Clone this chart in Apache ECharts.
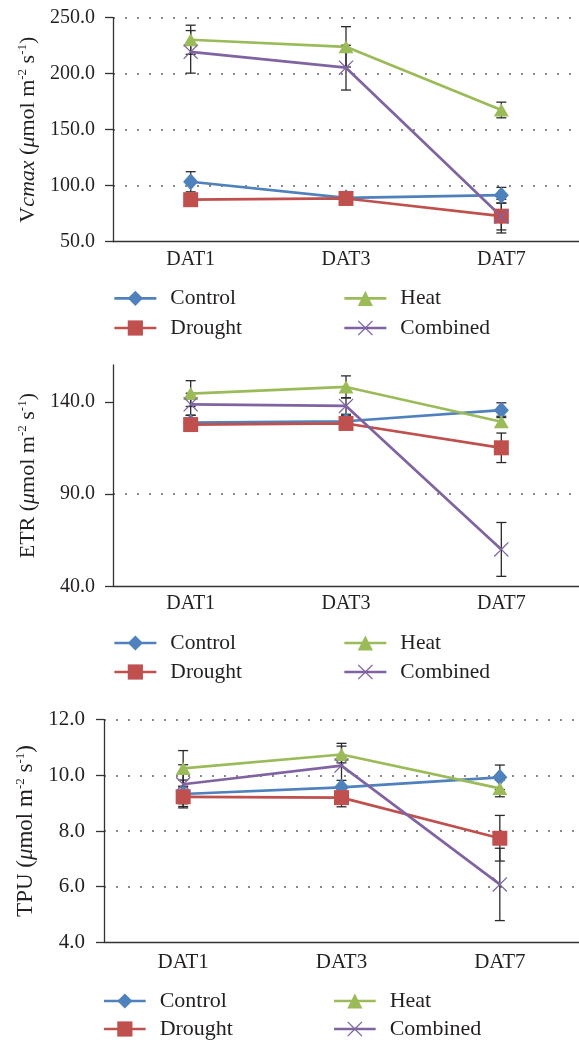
<!DOCTYPE html>
<html>
<head>
<meta charset="utf-8">
<title>Vcmax / ETR / TPU</title>
<script src="https://cdn.jsdelivr.net/npm/echarts@6/dist/echarts.min.js"></script>
<style>
html,body{margin:0;padding:0;background:#fff;}
#chart{width:579px;height:1040px;}
</style>
</head>
<body>
<div id="chart"></div>
<script>
var days = ['DAT1', 'DAT3', 'DAT7'];
var names = ['Control', 'Drought', 'Heat', 'Combined'];

// Vcmax
var vcmaxControl = [103.5, 89.2, 91.5];
var vcmaxDrought = [87.5, 88.6, 72.8];
var vcmaxHeat = [230.3, 224.0, 167.6];
var vcmaxCombined = [219.5, 205.4, 72.5];
var vcmaxControlErr = [9, 4, 7];
var vcmaxDroughtErr = [3, 5, 15];
var vcmaxHeatErr = [13, 18, 7];
var vcmaxCombinedErr = [19, 20, 12];
var vcmaxTicks = [50, 100, 150, 200, 250];
var vcmaxMax = 250;

// ETR
var etrControl = [128.8, 129.5, 135.5];
var etrDrought = [127.7, 128.3, 115.1];
var etrHeat = [144.5, 148.1, 129.2];
var etrCombined = [138.7, 137.8, 60.0];
var etrControlErr = [4, 3, 4];
var etrDroughtErr = [2, 2, 8];
var etrHeatErr = [7, 6, 3];
var etrCombinedErr = [6, 4.5, 14.6];
var etrTicks = [40, 90, 140];
var etrMax = 160;

// TPU
var tpuControl = [9.33, 9.57, 9.93];
var tpuDrought = [9.23, 9.2, 7.74];
var tpuHeat = [10.25, 10.75, 9.53];
var tpuCombined = [9.68, 10.35, 6.08];
var tpuControlErr = [0.5, 0.25, 0.44];
var tpuDroughtErr = [0.35, 0.33, 0.82];
var tpuHeatErr = [0.64, 0.3, 0.3];
var tpuCombinedErr = [0.7, 0.8, 1.3];
var tpuTicks = [4, 6, 8, 10, 12];
var tpuMax = 12;

var colors = ['#4f81bd', '#c0504d', '#9bbb59', '#8064a2'];
var symbols = ['diamond', 'rect', 'triangle',
    'path://M0,0.6 L0.6,0 L5,4.4 L9.4,0 L10,0.6 L5.6,5 L10,9.4 L9.4,10 L5,5.6 L0.6,10 L0,9.4 L4.4,5 Z'];
var symbolSizes = [[15, 17], [15, 15], [15, 13], [15, 15]];
var font = 'Liberation Serif';
var ink = '#231f20';

var chart = echarts.init(document.getElementById('chart'));

var grid = [], xAxis = [], yAxis = [], series = [], legend = [];

function errRender(params, api) {
    var c = api.coord([api.value(0), api.value(1)]);
    var lo = api.coord([api.value(0), api.value(2)]);
    var hi = api.coord([api.value(0), api.value(3)]);
    var st = {stroke: '#2b2b2b', lineWidth: 1.3};
    return {type: 'group', children: [
        {type: 'line', shape: {x1: c[0], y1: hi[1], x2: c[0], y2: lo[1]}, style: st},
        {type: 'line', shape: {x1: c[0] - 5, y1: hi[1], x2: c[0] + 5, y2: hi[1]}, style: st},
        {type: 'line', shape: {x1: c[0] - 5, y1: lo[1], x2: c[0] + 5, y2: lo[1]}, style: st}
    ]};
}

function addPanel(p) {
    var gi = grid.length;
    grid.push({left: p.left, width: p.width, top: p.top, height: p.height});

    xAxis.push({type: 'category', gridIndex: gi, data: days,
        axisLine: {lineStyle: {color: '#333', width: 1.3}}, axisTick: {show: false},
        axisLabel: {margin: p.xMargin, fontFamily: font, fontSize: p.fs, color: ink}});
    yAxis.push({type: 'value', gridIndex: gi, min: p.ticks[0], max: p.max,
        axisLine: {show: true, lineStyle: {color: '#333', width: 1.3}},
        axisTick: {show: true, length: 8, customValues: p.ticks, lineStyle: {color: '#333', width: 1.3}},
        axisLabel: {customValues: p.ticks, margin: p.labelMargin, fontFamily: font, fontSize: p.fs, color: ink,
            formatter: function (v) { return v.toFixed(1); }},
        splitLine: {show: true, showMinLine: false, showMaxLine: p.max === p.ticks[p.ticks.length - 1],
            lineStyle: {color: '#8a8a8a', width: 2, type: [2, 10]}},
        name: p.name, nameLocation: 'middle', nameGap: p.nameGap,
        nameTextStyle: {fontFamily: font, fontSize: p.nfs, color: ink,
            rich: {
                t: {fontFamily: font, fontSize: p.nfs, color: ink},
                i: {fontFamily: font, fontSize: p.nfs, color: ink, fontStyle: 'italic'},
                s: {fontFamily: font, fontSize: 13, color: ink, padding: [0, 0, 11, 0]}
            }}});

    for (var k = 0; k < 4; k++) {
        var vals = p.values[k], errs = p.errs[k];
        var errData = vals.map(function (v, i) { return [i, v, v - errs[i], v + errs[i]]; });
        series.push({type: 'custom', name: names[k] + ' error', xAxisIndex: gi, yAxisIndex: gi, z: 2,
            renderItem: errRender, encode: {x: 0, y: [1, 2, 3]}, data: errData});
    }
    for (var k = 0; k < 4; k++) {
        series.push({type: 'line', name: names[k], xAxisIndex: gi, yAxisIndex: gi, z: 3,
            data: p.values[k], symbol: symbols[k], symbolSize: symbolSizes[k],
            lineStyle: {color: colors[k], width: 2.7},
            itemStyle: {color: colors[k]}});
    }

    var lg = {orient: 'vertical', padding: 0, itemWidth: p.legW, itemHeight: 19, itemGap: p.legGap, top: p.legTop,
        lineStyle: {width: 2.7},
        textStyle: {fontFamily: font, fontSize: p.lfs, color: ink, lineHeight: 20, padding: [0, 0, 0, 9]}};
    legend.push(Object.assign({}, lg, {left: p.legLeft[0], data: ['Control', 'Drought']}));
    legend.push(Object.assign({}, lg, {left: p.legLeft[1], data: ['Heat', 'Combined']}));
}

addPanel({left: 113, top: 17.7, height: 224, width: 466.5, ticks: vcmaxTicks, max: vcmaxMax,
    fs: 20, nfs: 22, lfs: 21.5, labelMargin: 18, xMargin: 8, nameGap: 70,
    name: '{t|V}{i|cmax}{t| (}{i|μ}{t|mol m}{s|-2}{t| s}{s|-1}{t|)}',
    values: [vcmaxControl, vcmaxDrought, vcmaxHeat, vcmaxCombined],
    errs: [vcmaxControlErr, vcmaxDroughtErr, vcmaxHeatErr, vcmaxCombinedErr],
    legW: 42, legGap: 7.7, legTop: 287.3, legLeft: [113, 343]});

addPanel({left: 113, top: 365, height: 221.3, width: 466.5, ticks: etrTicks, max: etrMax,
    fs: 20, nfs: 22, lfs: 21.5, labelMargin: 18, xMargin: 7, nameGap: 70,
    name: '{t|ETR (}{i|μ}{t|mol m}{s|-2}{t| s}{s|-1}{t|)}',
    values: [etrControl, etrDrought, etrHeat, etrCombined],
    errs: [etrControlErr, etrDroughtErr, etrHeatErr, etrCombinedErr],
    legW: 42, legGap: 7, legTop: 632, legLeft: [113, 343]});

addPanel({left: 104, top: 719.7, height: 222.6, width: 481.5, ticks: tpuTicks, max: tpuMax,
    fs: 21, nfs: 23, lfs: 22, labelMargin: 19, xMargin: 10, nameGap: 64,
    name: '{t|TPU (}{i|μ}{t|mol m}{s|-2}{t| s}{s|-1}{t|)}',
    values: [tpuControl, tpuDrought, tpuHeat, tpuCombined],
    errs: [tpuControlErr, tpuDroughtErr, tpuHeatErr, tpuCombinedErr],
    legW: 41.6, legGap: 6, legTop: 990, legLeft: [102.7, 332.7]});

chart.setOption({
    animation: false,
    backgroundColor: '#fff',
    grid: grid,
    xAxis: xAxis,
    yAxis: yAxis,
    legend: legend,
    series: series
});
</script>
</body>
</html>
